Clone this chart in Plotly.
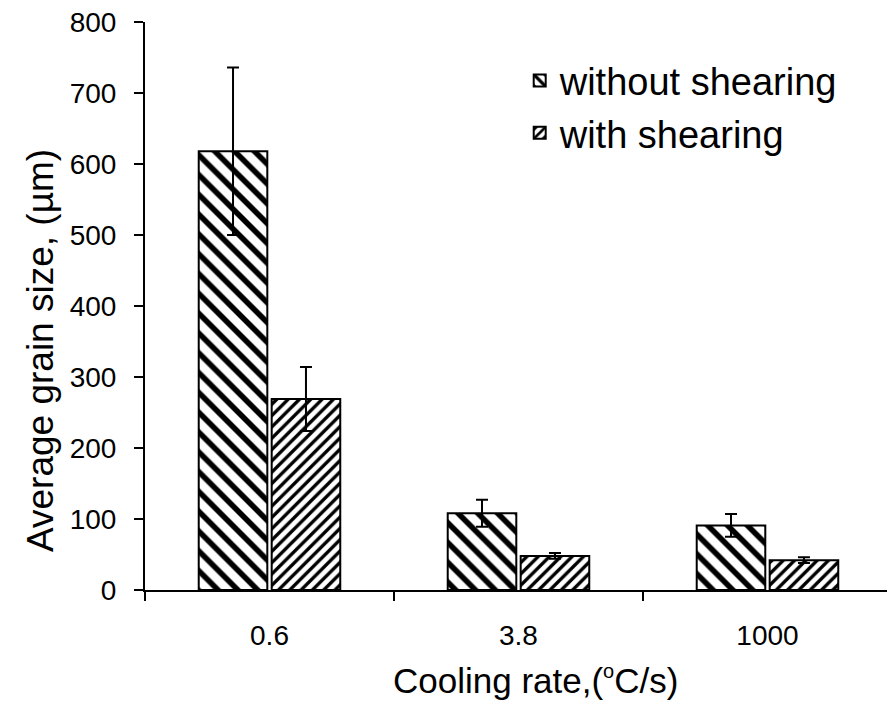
import plotly.graph_objects as go

# Cooling-rate categories and average grain size (µm) with standard deviation
cooling_rates = ["0.6", "3.8", "1000"]
without_shearing = [618, 108, 91]
without_shearing_err = [118, 19, 16]
with_shearing = [269, 48, 42]
with_shearing_err = [45, 4, 4]

FONT = "Arial, 'Liberation Sans', sans-serif"

fig = go.Figure()

fig.add_trace(go.Bar(
    name="without shearing",
    x=cooling_rates,
    y=without_shearing,
    error_y=dict(type="data", array=without_shearing_err, visible=True,
                 color="black", thickness=2, width=6),
    marker=dict(
        color="white",
        line=dict(color="black", width=2),
        pattern=dict(shape="\\", size=14, solidity=0.4, fgopacity=1,
                     fgcolor="black", bgcolor="white", fillmode="overlay"),
    ),
))

fig.add_trace(go.Bar(
    name="with shearing",
    x=cooling_rates,
    y=with_shearing,
    error_y=dict(type="data", array=with_shearing_err, visible=True,
                 color="black", thickness=2, width=6),
    marker=dict(
        color="white",
        line=dict(color="black", width=2),
        pattern=dict(shape="/", size=8, solidity=0.42, fgopacity=1,
                     fgcolor="black", bgcolor="white", fillmode="overlay"),
    ),
))

# Axis titles placed as annotations so they can sit off-centre
fig.add_annotation(
    text="Cooling rate,(<sup><span style='font-size:20px'>o</span></sup>C/s)",
    xref="paper", yref="paper",
    x=(535 - 145) / 742, y=-(680 - 590) / 568,
    xanchor="center", yanchor="middle", showarrow=False,
    font=dict(family=FONT, size=35, color="black"),
)
fig.add_annotation(
    text="Average grain size, (µm)",
    xref="paper", yref="paper",
    x=-(145 - 40) / 742, y=(590 - 351) / 568,
    xanchor="center", yanchor="middle", showarrow=False, textangle=-90,
    font=dict(family=FONT, size=37, color="black"),
)

fig.update_layout(
    width=887,
    height=713,
    margin=dict(l=145, r=0, t=22, b=123),
    paper_bgcolor="white",
    plot_bgcolor="white",
    barmode="group",
    bargap=0.414,
    bargroupgap=0.06,
    font=dict(family=FONT, color="black", size=28),
    showlegend=True,
    legend=dict(
        x=0.505, y=0.952, xanchor="left", yanchor="top",
        font=dict(family=FONT, size=38, color="black"),
        bgcolor="rgba(0,0,0,0)",
        itemwidth=30,
    ),
    xaxis=dict(
        type="category",
        range=[-0.5, 2.48],
        showline=True, linecolor="black", linewidth=2,
        ticks="outside", ticklen=9, tickwidth=2, tickcolor="black",
        tickson="boundaries",
        ticklabelstandoff=19,
        tickfont=dict(family=FONT, size=28, color="black"),
        showgrid=False, zeroline=False,
    ),
    yaxis=dict(
        range=[0, 800],
        tickvals=[0, 100, 200, 300, 400, 500, 600, 700, 800],
        showline=True, linecolor="black", linewidth=2,
        ticks="outside", ticklen=9, tickwidth=2, tickcolor="black",
        ticklabelstandoff=12,
        tickfont=dict(family=FONT, size=28, color="black"),
        showgrid=False, zeroline=False,
    ),
)

fig.write_html("out.html")
